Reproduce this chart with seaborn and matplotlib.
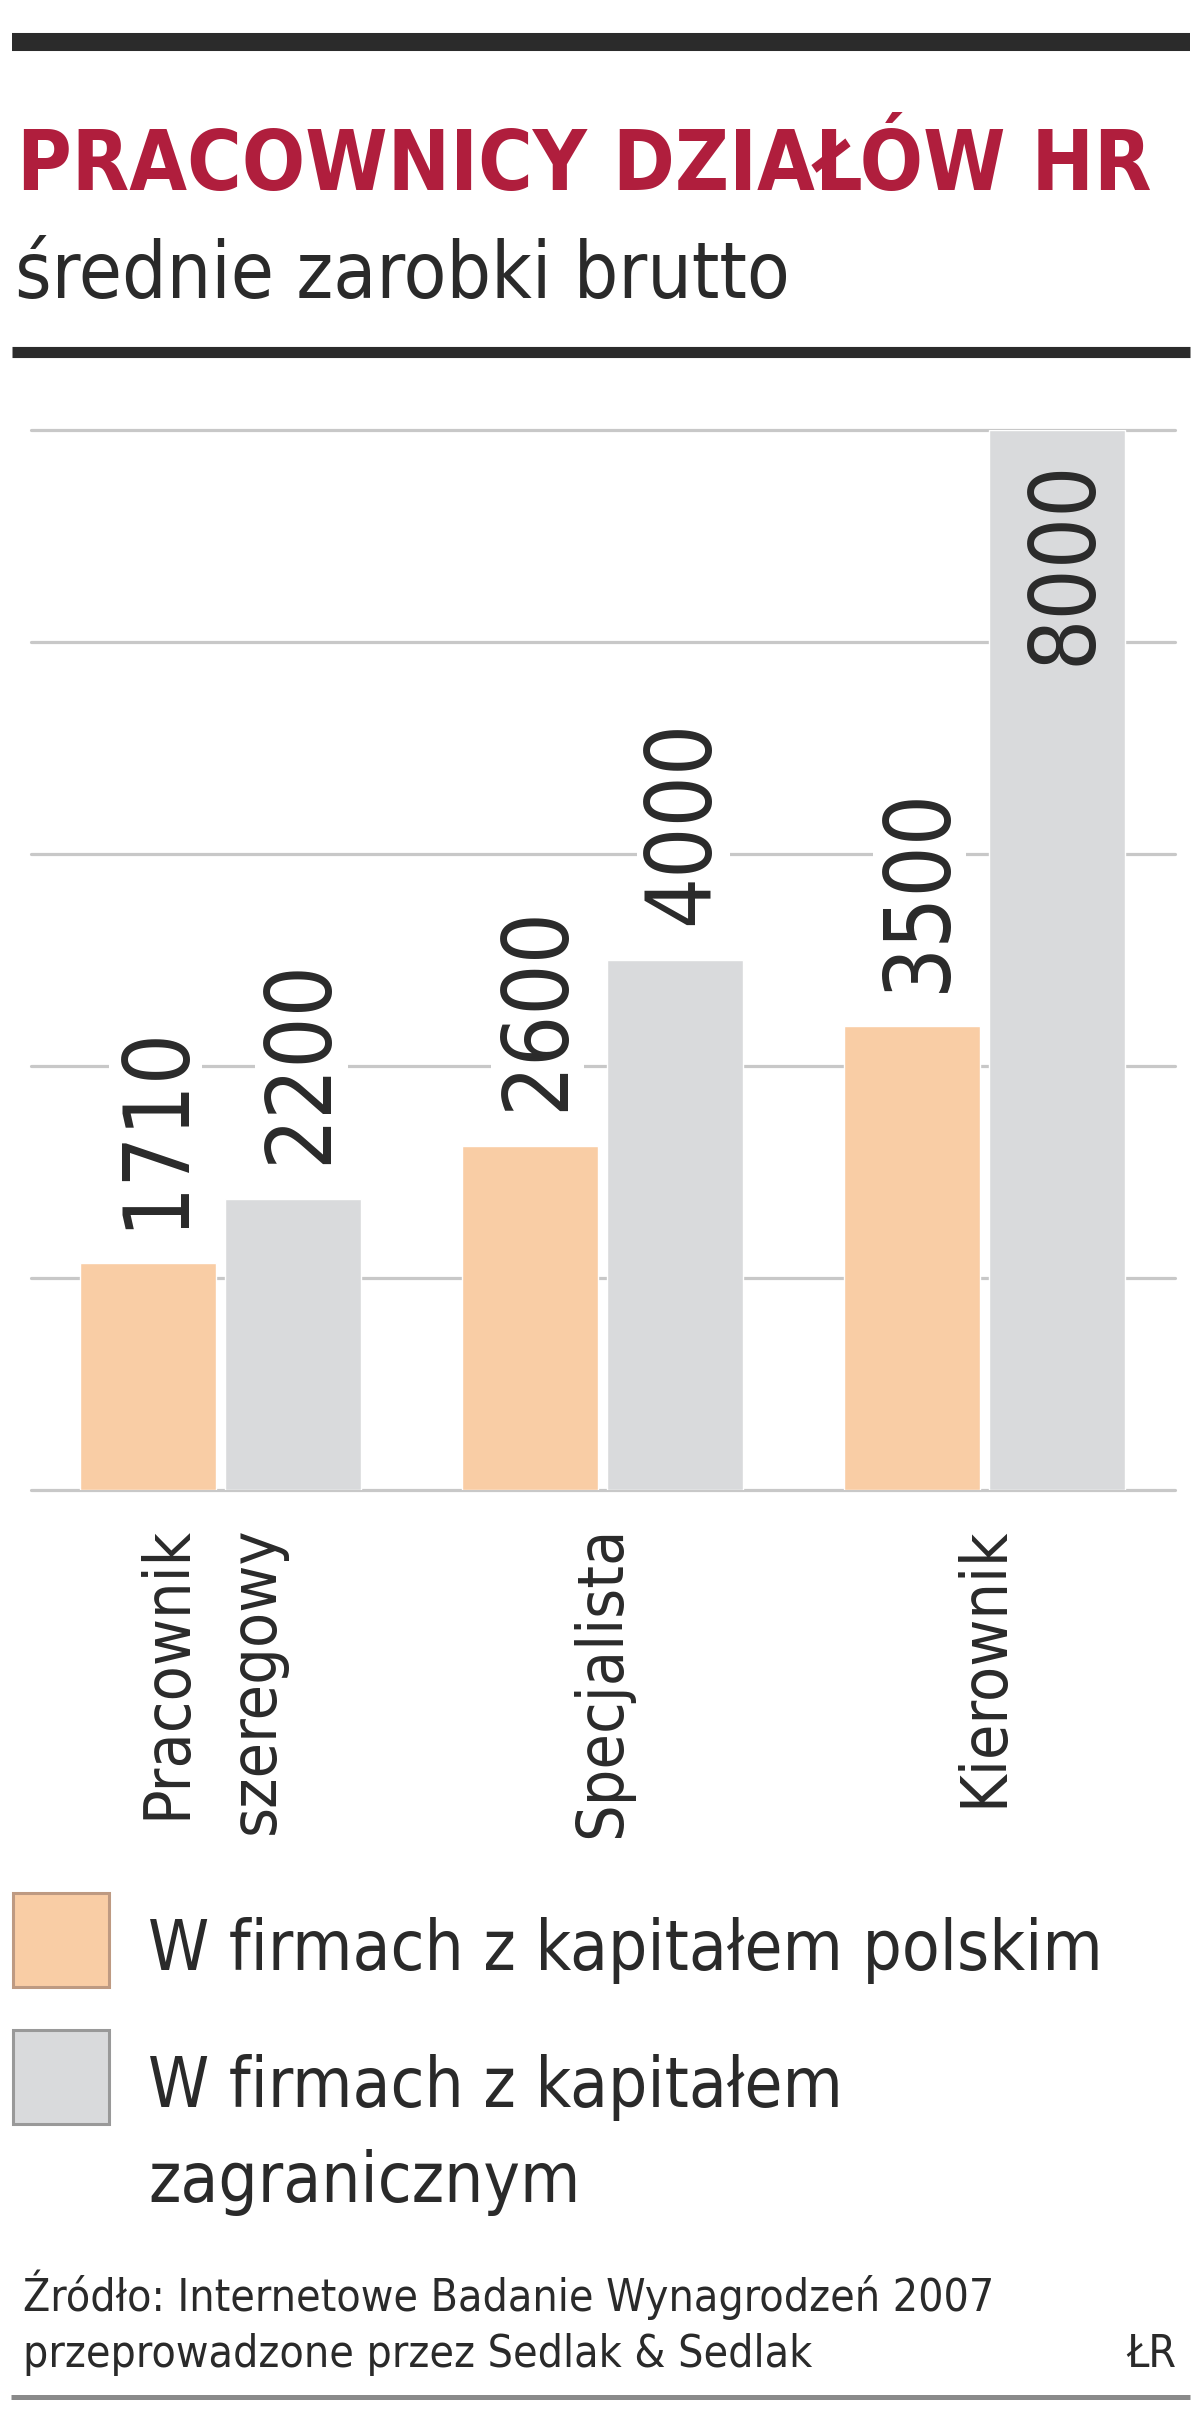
import numpy as np
import pandas as pd
import matplotlib
matplotlib.use("Agg")
import matplotlib.pyplot as plt
import matplotlib.font_manager as fm
import matplotlib.transforms as mtransforms
from matplotlib.patches import Rectangle
from matplotlib.lines import Line2D
import seaborn as sns

# ---------------- data ----------------
categories = ["Pracownik\nszeregowy", "Specjalista", "Kierownik"]
series_names = ["W firmach z kapitałem polskim", "W firmach z kapitałem\nzagranicznym"]
polish_capital = [1710, 2600, 3500]
foreign_capital = [2200, 4000, 8000]
grid_values = [0, 1600, 3200, 4800, 6400, 8000]

title = "PRACOWNICY DZIAŁÓW HR"
subtitle = "średnie zarobki brutto"
source_lines = ["Źródło: Internetowe Badanie Wynagrodzeń 2007",
                "przeprowadzone przez Sedlak & Sedlak"]
author = "ŁR"

# ---------------- style ----------------
sns.set_style("white")

# choose the narrowest available sans family (reference uses a condensed face)
_fonts = [(f.name, str(f.stretch)) for f in fm.fontManager.ttflist]
_names = {n for n, _ in _fonts}
STRETCH = "normal"
if "Liberation Sans Narrow" in _names:
    MAIN = "Liberation Sans Narrow"
elif any(n == "DejaVu Sans" and s in ("condensed", "semi-condensed", "extra-condensed", "ultra-condensed")
         for n, s in _fonts):
    MAIN = "DejaVu Sans"
    STRETCH = "condensed"
else:
    MAIN = "Liberation Sans"
FAM = [MAIN, "Liberation Sans", "DejaVu Sans"]
plt.rcParams["font.family"] = FAM
plt.rcParams["font.stretch"] = STRETCH

ORANGE = "#F9CDA5"
GREY = "#D9DADC"
TXT = "#2A2A2A"
RED = "#B01E3D"
GRID = "#C8C8C8"

W, H = 1200, 2426
fig = plt.figure(figsize=(W / 100, H / 100), dpi=100)
fig.patch.set_facecolor("white")
renderer = fig.canvas.get_renderer()


def fx(px):
    return px / W


def fy(py):
    return 1 - py / H


def fit_size(s, target, rotation=0, **kw):
    t = fig.text(0, 0, s, fontsize=100, rotation=rotation, family=FAM,
                 fontstretch=STRETCH, **kw)
    bb = t.get_window_extent(renderer)
    t.remove()
    length = bb.height if rotation else bb.width
    return 100 * target / length


# ---------------- axes ----------------
ax_left, ax_right, ax_top, ax_bottom = 31, 1175, 430, 1490
ax = fig.add_axes([fx(ax_left), fy(ax_bottom), (ax_right - ax_left) / W, (ax_bottom - ax_top) / H])

df = pd.DataFrame({
    "kategoria": categories * 2,
    "wartosc": polish_capital + foreign_capital,
    "kapital": [series_names[0]] * len(categories) + [series_names[1]] * len(categories),
})

sns.barplot(data=df, x="kategoria", y="wartosc", hue="kapital",
            palette=[ORANGE, GREY], width=0.762, gap=0.066, saturation=1,
            legend=False, ax=ax, zorder=2)

ax.set_ylim(0, 8000)
ax.set_xlim(-0.496, 2.499)
for v in grid_values:
    ax.axhline(v, color=GRID, lw=2.3, zorder=0, clip_on=False)
for s in ax.spines.values():
    s.set_visible(False)
ax.set_yticks([])
ax.set_xlabel("")
ax.set_ylabel("")

cat_fs = min(fit_size("Kierownik", 280, rotation=90), 56)
ax.tick_params(axis="x", length=0, pad=26)
ax.set_xticks(range(len(categories)))
ax.set_xticklabels(categories, rotation=90, va="top", ha="center",
                   multialignment="right", fontsize=cat_fs, color=TXT,
                   linespacing=1.55, family=FAM, fontstretch=STRETCH)
# two-line label sits slightly left of its group centre in the reference
shift = mtransforms.ScaledTranslation(-9 / 100, 0, fig.dpi_scale_trans)
for lbl in ax.get_xticklabels():
    if "\n" in lbl.get_text():
        lbl.set_transform(lbl.get_transform() + shift)

# value labels
num_fs = min(fit_size("4000", 205, rotation=90), 80)
xoff = num_fs * 0.09
series_values = [polish_capital, foreign_capital]
ymax = ax.get_ylim()[1]
for cont, vals in zip(ax.containers, series_values):
    for rect, v in zip(cont, vals):
        xc = rect.get_x() + rect.get_width() / 2
        h = rect.get_height()
        if h >= ymax * 0.95:
            ax.annotate(str(v), (xc, h), xytext=(xoff, -21), textcoords="offset points",
                        rotation=90, ha="center", va="top", fontsize=num_fs,
                        color=TXT, family=FAM, fontstretch=STRETCH, zorder=5)
        else:
            ax.annotate(str(v), (xc, h), xytext=(xoff, 25), textcoords="offset points",
                        rotation=90, ha="center", va="bottom", fontsize=num_fs,
                        color=TXT, family=FAM, fontstretch=STRETCH, zorder=5,
                        bbox=dict(facecolor="white", edgecolor="none", pad=2))

# ---------------- header ----------------
fig.add_artist(Line2D([fx(12), fx(1190)], [fy(42), fy(42)], lw=13, color="#2B2B2B",
                      solid_capstyle="butt", transform=fig.transFigure))
title_fs = min(fit_size(title, 1135, fontweight="bold"), 74)
fig.text(fx(17), fy(190), title, color=RED, fontsize=title_fs, fontweight="bold",
         va="baseline", ha="left", family=FAM, fontstretch=STRETCH)
sub_fs = min(fit_size(subtitle, 775), 70)
fig.text(fx(15), fy(298), subtitle, color=TXT, fontsize=sub_fs,
         va="baseline", ha="left", family=FAM, fontstretch=STRETCH)
fig.add_artist(Line2D([fx(12), fx(1190)], [fy(352), fy(352)], lw=8, color="#2B2B2B",
                      solid_capstyle="butt", transform=fig.transFigure))

# ---------------- legend ----------------
leg_fs = min(fit_size(series_names[0], 955), 60)
legend_colors = [ORANGE, GREY]
legend_edges = ["#BE9A82", "#999999"]
box_tops = [1893, 2030]
text_baselines = [1970, 2107]
for col, ec, top, base, name in zip(legend_colors, legend_edges, box_tops, text_baselines, series_names):
    fig.add_artist(Rectangle((fx(13), fy(top + 94)), 96 / W, 94 / H,
                             facecolor=col, edgecolor=ec, lw=2.2,
                             transform=fig.transFigure))
    for k, line in enumerate(name.split("\n")):
        fig.text(fx(148), fy(base + 95 * k), line, color=TXT, fontsize=leg_fs,
                 va="baseline", ha="left", family=FAM, fontstretch=STRETCH)

# ---------------- footer ----------------
src_fs = min(fit_size(source_lines[0], 970), 40)
fig.text(fx(23), fy(2311), source_lines[0], color=TXT, fontsize=src_fs,
         va="baseline", ha="left", family=FAM, fontstretch=STRETCH)
fig.text(fx(23), fy(2367), source_lines[1], color=TXT, fontsize=src_fs,
         va="baseline", ha="left", family=FAM, fontstretch=STRETCH)
fig.text(fx(1176), fy(2367), author, color=TXT, fontsize=src_fs,
         va="baseline", ha="right", family=FAM, fontstretch=STRETCH)
fig.add_artist(Line2D([fx(11), fx(1190)], [fy(2397), fy(2397)], lw=3.6, color="#8A8A8A",
                      solid_capstyle="butt", transform=fig.transFigure))

fig.savefig("out.png", dpi=100, facecolor="white")
